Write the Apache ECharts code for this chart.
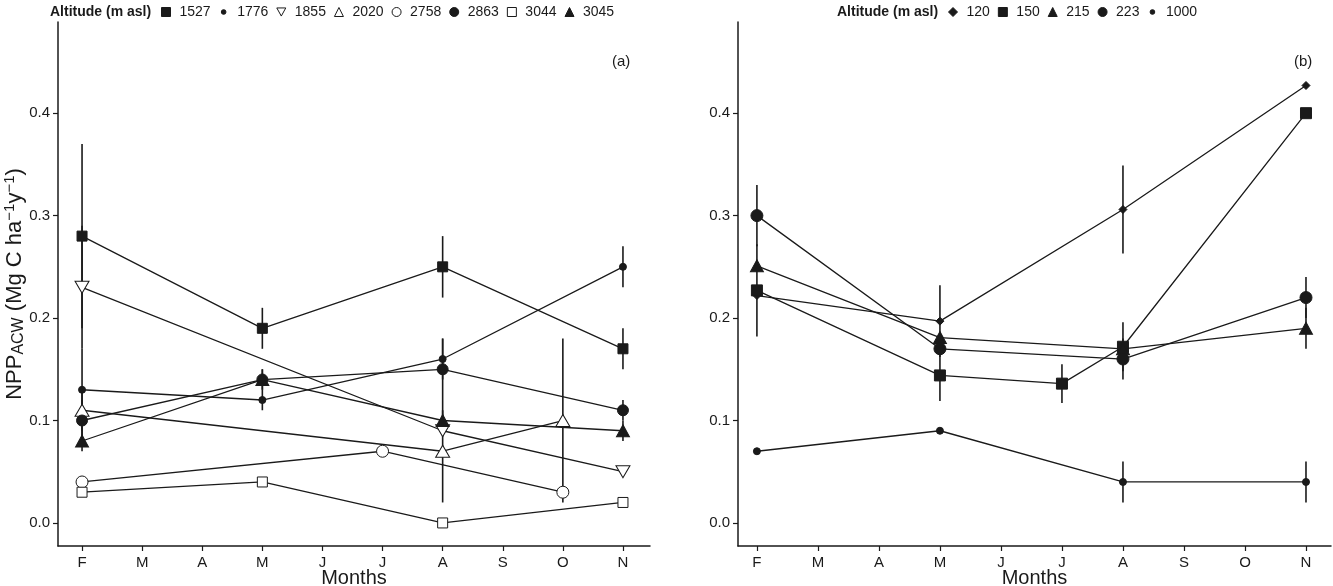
<!DOCTYPE html>
<html><head><meta charset="utf-8">
<script src="https://cdn.jsdelivr.net/npm/echarts@6/dist/echarts.min.js"></script>
<style>html,body{margin:0;padding:0;background:#fff}#c{width:1333px;height:586px}</style>
</head><body><div id="c"></div>
<script>
// ---- data ----
const months = ['F','M','A','M','J','J','A','S','O','N'];
const yTicks = [0, 0.1, 0.2, 0.3, 0.4];
// panel (a) altitudes
const aNames = ['1527','1776','1855','2020','2758','2863','3044','3045'];
const a1527 = [0.28,null,null,0.19,null,null,0.25,null,null,0.17];
const a1527Err = [0.09,null,null,0.02,null,null,0.03,null,null,0.02];
const a1776 = [0.13,null,null,0.12,null,null,0.16,null,null,0.25];
const a1776Err = [0.04,null,null,0.01,null,null,0.02,null,null,0.02];
const a1855 = [0.23,null,null,null,null,null,0.09,null,null,0.05];
const a1855Err = [0.06,null,null,null,null,null,null,null,null,null];
const a2020 = [0.11,null,null,null,null,null,0.07,null,0.10,null];
const a2020Err = [0.02,null,null,null,null,null,0.05,null,0.08,null];
const a2758 = [0.04,null,null,null,null,0.07,null,null,0.03,null];
const a2758Err = [null,null,null,null,null,null,null,null,null,null];
const a2863 = [0.10,null,null,0.14,null,null,0.15,null,null,0.11];
const a2863Err = [0.02,null,null,0.01,null,null,0.03,null,null,0.01];
const a3044 = [0.03,null,null,0.04,null,null,0.00,null,null,0.02];
const a3044Err = [null,null,null,null,null,null,null,null,null,null];
const a3045 = [0.08,null,null,0.14,null,null,0.10,null,null,0.09];
const a3045Err = [0.01,null,null,0.01,null,null,0.01,null,null,0.01];
// panel (b) altitudes
const bNames = ['120','150','215','223','1000'];
const b120 = [0.222,null,null,0.197,null,null,0.306,null,null,0.427];
const b120Err = [null,null,null,0.035,null,null,0.043,null,null,null];
const b150 = [0.227,null,null,0.144,null,0.136,0.172,null,null,0.40];
const b150Err = [0.045,null,null,0.025,null,0.019,0.024,null,null,null];
const b215 = [0.251,null,null,0.181,null,null,0.170,null,null,0.19];
const b215Err = [null,null,null,null,null,null,null,null,null,0.02];
const b223 = [0.30,null,null,0.17,null,null,0.16,null,null,0.22];
const b223Err = [0.03,null,null,null,null,null,0.02,null,null,0.02];
const b1000 = [0.07,null,null,0.09,null,null,0.04,null,null,0.04];
const b1000Err = [null,null,null,null,null,null,0.02,null,null,0.02];

const aVals = [a1527,a1776,a1855,a2020,a2758,a2863,a3044,a3045];
const aErrs = [a1527Err,a1776Err,a1855Err,a2020Err,a2758Err,a2863Err,a3044Err,a3045Err];
const bVals = [b120,b150,b215,b223,b1000];
const bErrs = [b120Err,b150Err,b215Err,b223Err,b1000Err];

// ---- styles ----
const INK = '#1a1a1a';
const DOWN_TRI = 'path://M0,0 L10,0 L5,9 Z';
const DIAMOND = 'path://M5,0 L10,5 L5,10 L0,5 Z';
const SMALL_DOT = 'path://M0,0 M10,10 M5,2.4 A2.6,2.6 0 1,1 5,7.6 A2.6,2.6 0 1,1 5,2.4 Z';
const aStyle = [
  {symbol:'rect', size:10, fill:INK},
  {symbol:'circle', size:7, fill:INK, icon:SMALL_DOT},
  {symbol:DOWN_TRI, size:[14,12], fill:'#fff'},
  {symbol:'triangle', size:[14,12], fill:'#fff'},
  {symbol:'circle', size:12, fill:'#fff'},
  {symbol:'circle', size:11, fill:INK},
  {symbol:'rect', size:10, fill:'#fff'},
  {symbol:'triangle', size:[13,12], fill:INK}
];
const bStyle = [
  {symbol:DIAMOND, size:8, fill:INK},
  {symbol:'rect', size:11, fill:INK},
  {symbol:'triangle', size:[13,12], fill:INK},
  {symbol:'circle', size:12, fill:INK},
  {symbol:'circle', size:7, fill:INK, icon:SMALL_DOT}
];

const FONT = '"Liberation Sans", Arial, sans-serif';

function pairs(arr){ const out=[]; arr.forEach((v,i)=>{ if(v!==null) out.push([i,v]); }); return out; }
function errData(vals, errs){
  const out=[];
  vals.forEach((vs,k)=>{ vs.forEach((v,i)=>{ const e=errs[k][i]; if(v!==null && e) out.push([i, v-e, v+e]); }); });
  return out;
}
function lineSeries(names, vals, styles, gi){
  return names.map((n,k)=>({
    name:n, type:'line', xAxisIndex:gi, yAxisIndex:gi, data:pairs(vals[k]),
    symbol:styles[k].symbol, symbolSize:styles[k].size, showSymbol:true,
    lineStyle:{color:INK, width:1.3}, z:3,
    itemStyle:{color:styles[k].fill, borderColor:INK, borderWidth:1, opacity:1},
    emphasis:{disabled:true}, animation:false
  }));
}
function errSeries(vals, errs, gi){
  return {
    type:'custom', xAxisIndex:gi, yAxisIndex:gi, silent:true, z:2, animation:false,
    data: errData(vals, errs), encode:{x:0, y:[1,2]},
    renderItem:(params, api)=>{
      const p1=api.coord([api.value(0), api.value(1)]);
      const p2=api.coord([api.value(0), api.value(2)]);
      return {type:'line', shape:{x1:p1[0],y1:p1[1],x2:p2[0],y2:p2[1]}, style:{stroke:INK, lineWidth:1.6}};
    }
  };
}
function legendData(names, styles){
  return names.map((n,k)=>({name:n, icon:styles[k].icon || styles[k].symbol,
    itemStyle:{color:styles[k].fill, borderColor:INK, borderWidth:1}}));
}
function xAxis(gi, min, max){
  return {type:'value', gridIndex:gi, min:min, max:max,
    axisLine:{show:true, onZero:false, lineStyle:{color:INK, width:1.5}},
    axisTick:{show:true, length:5, lineStyle:{color:INK, width:1.2}, customValues:[0,1,2,3,4,5,6,7,8,9]},
    axisLabel:{customValues:[0,1,2,3,4,5,6,7,8,9], formatter:v=>months[Math.round(v)], color:INK, fontFamily:FONT, fontSize:15, margin:9},
    splitLine:{show:false},
    name:'Months', nameLocation:'middle', nameGap:22, nameMoveOverlap:false,
    nameTextStyle:{color:INK, fontFamily:FONT, fontSize:20}
  };
}
function yAxis(gi, withName){
  const o = {type:'value', gridIndex:gi, min:-0.0225, max:0.489,
    axisLine:{show:true, onZero:false, lineStyle:{color:INK, width:1.5}},
    axisTick:{show:true, length:5, lineStyle:{color:INK, width:1.2}, customValues:yTicks},
    axisLabel:{customValues:yTicks, formatter:v=>v.toFixed(1), color:INK, fontFamily:FONT, fontSize:15, margin:8},
    splitLine:{show:false}
  };
  if(withName){
    o.name = 'NPP{sub|ACW} (Mg C ha{sup|−1}y{sup|−1})';
    o.nameLocation='middle'; o.nameGap=31; o.nameRotate=90; o.nameMoveOverlap=false;
    o.nameTextStyle={color:INK, fontFamily:FONT, fontSize:22, lineHeight:25,
      rich:{sub:{fontSize:16, fontFamily:FONT, color:INK, verticalAlign:'bottom', lineHeight:25},
            sup:{fontSize:15, fontFamily:FONT, color:INK, verticalAlign:'top', lineHeight:25}}};
  }
  return o;
}
const legendCommon = {top:5, padding:0, itemWidth:9, itemHeight:9, itemGap:8, selectedMode:false,
  textStyle:{fontFamily:FONT, fontSize:14, color:INK, padding:[0,0,0,4]}};

const chart = echarts.init(document.getElementById('c'), null, {renderer:'canvas'});
chart.setOption({
  backgroundColor:'#fff',
  animation:false,
  grid:[
    {left:58, right:683, top:22, bottom:40, outerBoundsMode:'none', containLabel:false},
    {left:738, right:2, top:22, bottom:40, outerBoundsMode:'none', containLabel:false}
  ],
  xAxis:[xAxis(0, -0.4, 9.45), xAxis(1, -0.31, 9.41)],
  yAxis:[yAxis(0, true), yAxis(1, false)],
  legend:[
    Object.assign({data:legendData(aNames, aStyle), left:161}, legendCommon),
    Object.assign({data:legendData(bNames, bStyle), left:948}, legendCommon)
  ],
  graphic:[
    {type:'text', left:50, top:5, style:{text:'Altitude (m asl)', font:'bold 14px "Liberation Sans", Arial, sans-serif', fill:INK}},
    {type:'text', left:837, top:5, style:{text:'Altitude (m asl)', font:'bold 14px "Liberation Sans", Arial, sans-serif', fill:INK}},
    {type:'text', left:612, top:54, style:{text:'(a)', font:'15px "Liberation Sans", Arial, sans-serif', fill:INK}},
    {type:'text', left:1294, top:54, style:{text:'(b)', font:'15px "Liberation Sans", Arial, sans-serif', fill:INK}}
  ],
  series:[
    errSeries(aVals, aErrs, 0),
    ...lineSeries(aNames, aVals, aStyle, 0),
    errSeries(bVals, bErrs, 1),
    ...lineSeries(bNames, bVals, bStyle, 1)
  ]
});
</script>
</body></html>
